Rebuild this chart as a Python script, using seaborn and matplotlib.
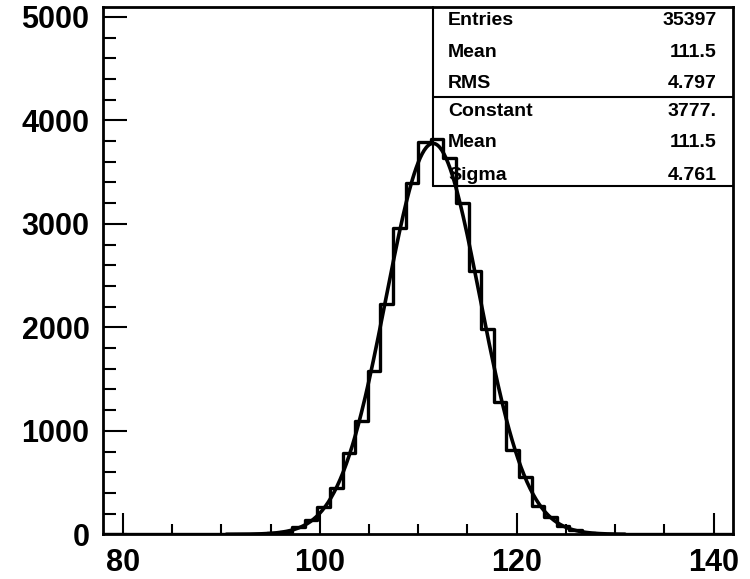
import numpy as np
import pandas as pd
import matplotlib
matplotlib.use("Agg")
import matplotlib.pyplot as plt
import seaborn as sns

# ---- data ----
x_min, x_max, n_bins = 78.0, 142.0, 50
counts = [0, 0, 0, 0, 0, 0, 0, 0, 0, 0,
          1, 2, 5, 12, 27, 70, 140, 260, 450, 790,
          1095, 1578, 2230, 2955, 3390, 3792, 3818, 3638, 3205, 2548,
          1980, 1280, 815, 552, 274, 170, 82, 37, 15, 6,
          2, 1, 0, 0, 0, 0, 0, 0, 0, 0]
stat_labels = ["Entries", "Mean", "RMS"]
stat_values = ["35397", "111.5", "4.797"]
fit_labels = ["Constant", "Mean", "Sigma"]
fit_values = ["3777.", "111.5", "4.761"]
fit_constant, fit_mean, fit_sigma = 3777.0, 111.5, 4.761
fit_range = (90.5, 131.0)
x_ticks = [80, 100, 120, 140]
y_ticks = [0, 1000, 2000, 3000, 4000, 5000]

sns.set_theme(style="white")
plt.rcParams['font.family'] = ['Liberation Sans', 'DejaVu Sans']
plt.rcParams['text.color'] = 'black'

fig = plt.figure(figsize=(7.5, 5.79), dpi=100)
ax = fig.add_axes([0.1377, 0.0772, 0.840, 0.9107])

edges = np.linspace(x_min, x_max, n_bins + 1)
centers = 0.5 * (edges[:-1] + edges[1:])
df = pd.DataFrame({"x": centers, "w": counts})
sns.histplot(data=df, x="x", weights="w", bins=n_bins, binrange=(x_min, x_max),
             element="step", fill=False, color="black", linewidth=2.4, ax=ax)

xf = np.linspace(fit_range[0], fit_range[1], 400)
yf = fit_constant * np.exp(-0.5 * ((xf - fit_mean) / fit_sigma) ** 2)
sns.lineplot(x=xf, y=yf, color="black", linewidth=2.6, ax=ax)

ax.set_xlim(x_min, x_max)
ax.set_ylim(0, 5095)
ax.set_xlabel("")
ax.set_ylabel("")
ax.set_xticks(x_ticks)
ax.set_yticks(y_ticks)
ax.set_xticks(np.arange(80, 141, 5), minor=True)
ax.set_yticks(np.arange(0, 5001, 200), minor=True)
ax.tick_params(axis="both", which="both", bottom=True, left=True, top=False, right=False,
               direction="in", width=1.5, color="black", labelcolor="black")
ax.tick_params(axis="both", which="major", labelsize=22, pad=10)
ax.tick_params(axis="x", which="major", length=15)
ax.tick_params(axis="y", which="major", length=17)
ax.tick_params(axis="x", which="minor", length=7.5)
ax.tick_params(axis="y", which="minor", length=9)
for lab in ax.get_xticklabels() + ax.get_yticklabels():
    lab.set_fontweight("bold")
for s in ax.spines.values():
    s.set_color("black")
    s.set_linewidth(2.0)
ax.grid(False)

# stats box
bx0, bdiv, bbot = 0.5229, 0.8288, 0.6605
ax.plot([bx0, bx0], [bbot, 1.0], transform=ax.transAxes, color="black", lw=1.5, clip_on=False)
ax.plot([bx0, 1.0], [bdiv, bdiv], transform=ax.transAxes, color="black", lw=1.5, clip_on=False)
ax.plot([bx0, 1.0], [bbot, bbot], transform=ax.transAxes, color="black", lw=1.5, clip_on=False)
rows_y = [0.974, 0.9134, 0.8553, 0.8015, 0.7426, 0.6814]
all_labels = stat_labels + fit_labels
all_values = stat_values + fit_values
for yy, lab, val in zip(rows_y, all_labels, all_values):
    ax.text(0.5471, yy, lab, transform=ax.transAxes, ha="left", va="center",
            fontsize=14, fontweight="bold", color="black")
    ax.text(0.9736, yy, val, transform=ax.transAxes, ha="right", va="center",
            fontsize=14, fontweight="bold", color="black")

fig.savefig("out.png", dpi=100)
